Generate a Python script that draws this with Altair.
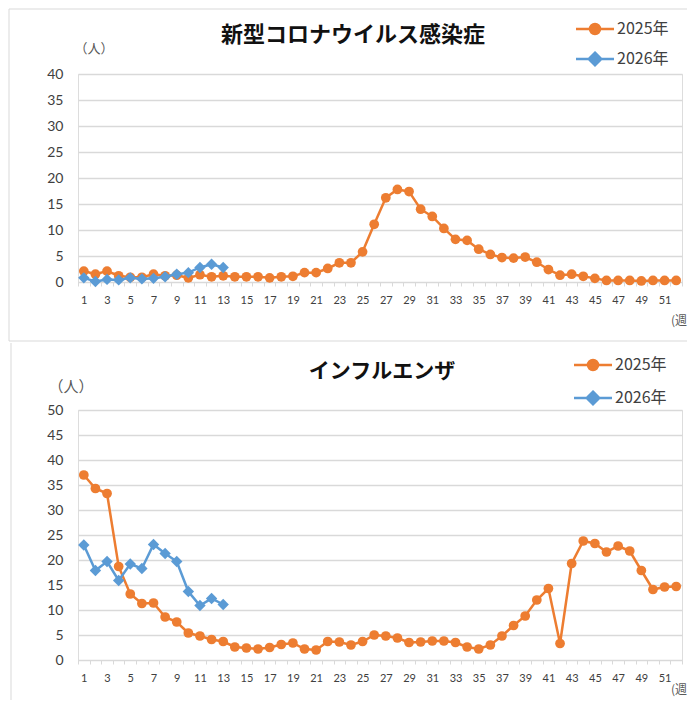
import altair as alt
import pandas as pd

weeks = list(range(1, 53))
series_names = ["2025年", "2026年"]
series_colors = ["#ED7D31", "#5B9BD5"]

cov_2025 = [2.1, 1.5, 2.1, 1.2, 0.9, 0.9, 1.5, 1.2, 1.3, 0.8, 1.4, 1.0, 1.2,
            1.0, 1.0, 1.0, 0.8, 1.0, 1.1, 1.8, 1.8, 2.6, 3.7, 3.7, 5.8, 11.1,
            16.2, 17.8, 17.4, 14.0, 12.6, 10.3, 8.2, 8.0, 6.3, 5.3, 4.7, 4.6,
            4.8, 3.8, 2.4, 1.3, 1.5, 1.1, 0.7, 0.3, 0.3, 0.3, 0.2, 0.3, 0.3, 0.3]
cov_2026 = [0.8, 0.1, 0.5, 0.4, 0.8, 0.6, 0.7, 1.0, 1.5, 1.8, 2.8, 3.4, 2.8]

flu_2025 = [37.0, 34.3, 33.3, 18.7, 13.2, 11.3, 11.4, 8.6, 7.6, 5.4, 4.8, 4.1, 3.7,
            2.6, 2.4, 2.2, 2.5, 3.1, 3.4, 2.2, 2.0, 3.7, 3.6, 3.0, 3.7, 5.0,
            4.8, 4.4, 3.5, 3.6, 3.8, 3.8, 3.5, 2.6, 2.2, 3.0, 4.8, 6.9, 8.8,
            12.0, 14.3, 3.3, 19.3, 23.8, 23.3, 21.6, 22.8, 21.8, 17.9, 14.1, 14.6, 14.7]
flu_2026 = [23.0, 17.9, 19.7, 15.9, 19.2, 18.3, 23.1, 21.3, 19.7, 13.7, 10.9, 12.3, 11.1]

titles = ["新型コロナウイルス感染症", "インフルエンザ"]

W = 604
BORDER = "#d9d9d9"
CJK = "Noto Sans CJK JP"
NUM = "Lato"

circle_path = "M-3.8,0H3.8M-1,0A1,1,0,1,1,1,0A1,1,0,1,1,-1,0Z"
diamond_path = "M-3.8,0H3.8M0,-1.25L1.25,0L0,1.25L-1.25,0Z"

one = pd.DataFrame({"a": [0]})


def long_df(v25, v26):
    rows = [{"week": w, "value": v, "series": series_names[0]} for w, v in zip(weeks, v25)]
    rows += [{"week": w, "value": v, "series": series_names[1]} for w, v in zip(weeks, v26)]
    return pd.DataFrame(rows)


def text_layer(txt, x, y, size, weight="normal", color="#000000", align="center", font=CJK):
    return alt.Chart(one).mark_text(
        text=txt, font=font, fontSize=size, fontWeight=weight, color=color,
        align=align, baseline="middle"
    ).encode(x=alt.value(x), y=alt.value(y))


def rule_layer(**kw):
    return alt.Chart(one).mark_rule(color=BORDER, strokeWidth=1).encode(
        **{k: alt.value(v) for k, v in kw.items()})


def panel(df, title, ymax, H, title_x, title_y, title_size, people_x, people_y, people_size,
          legend_x, legend_y, row_pad, decor, week_y):
    base = alt.Chart(df).encode(
        x=alt.X("week:O", title=None,
                scale=alt.Scale(type="band", paddingInner=0, paddingOuter=0),
                axis=alt.Axis(labelAngle=0, labelOverlap=False,
                              labelExpr="datum.value % 2 == 1 ? datum.label : ''",
                              tickBand="extent", domainColor=BORDER, tickColor=BORDER,
                              tickSize=4, labelFontSize=11, labelFont=NUM,
                              labelColor="#404040", labelPadding=8, grid=False)),
        y=alt.Y("value:Q", title=None,
                scale=alt.Scale(domain=[0, ymax], nice=False),
                axis=alt.Axis(values=list(range(0, ymax + 1, 5)), domain=False, ticks=False,
                              grid=True, gridColor=BORDER, gridWidth=1.3,
                              labelFontSize=14, labelFont=NUM, labelColor="#404040",
                              labelPadding=15)),
    )
    s25 = base.transform_filter(alt.datum.series == series_names[0])
    s26 = base.transform_filter(alt.datum.series == series_names[1])
    l25 = s25.mark_line(color=series_colors[0], strokeWidth=2.5)
    p25 = s25.mark_point(shape="circle", filled=True, size=95, opacity=1, color=series_colors[0])
    l26 = s26.mark_line(color=series_colors[1], strokeWidth=2.5)
    p26 = s26.mark_point(shape="diamond", filled=True, size=130, opacity=1, color=series_colors[1])

    leg = alt.Legend(title=None, orient="none", legendX=legend_x, legendY=legend_y,
                     labelFont=CJK, labelFontSize=16, labelColor="#404040",
                     symbolSize=100, symbolStrokeWidth=2.5, rowPadding=row_pad,
                     labelOffset=14)
    legend_layer = alt.Chart(pd.DataFrame({"series": series_names})).transform_filter(
        "false").mark_point(filled=True, size=100, opacity=1).encode(
        fill=alt.Fill("series:N", scale=alt.Scale(domain=series_names, range=series_colors), legend=leg),
        stroke=alt.Stroke("series:N", scale=alt.Scale(domain=series_names, range=series_colors), legend=leg),
        shape=alt.Shape("series:N", scale=alt.Scale(domain=series_names, range=[circle_path, diamond_path]), legend=leg),
    )

    texts = [
        text_layer(title, title_x, title_y, title_size, weight="bold", color="#111111"),
        text_layer("（人）", people_x, people_y, people_size, color="#595959"),
        text_layer("(週", 609, week_y, 12, color="#595959", align="right"),
    ]
    return alt.layer(*decor, l25, p25, l26, p26, legend_layer, *texts).properties(width=W, height=H)


top_decor = [
    rule_layer(x=-69, y=-65, y2=267),
    rule_layer(y=-65, x=-69, x2=609),
    rule_layer(y=267, x=-69, x2=609),
]
bottom_decor = [
    rule_layer(x=-67, y=-67, y2=290),
]

top = panel(long_df(cov_2025, cov_2026), titles[0], 40, 208,
            275, -39, 22, 16, -25, 13, 509, -53, 8, top_decor, 247)
bottom = panel(long_df(flu_2025, flu_2026), titles[1], 50, 250,
               304, -38, 21, -7, -23, 15, 507, -53, 11, bottom_decor, 280)

chart = alt.vconcat(top, bottom, spacing=0, padding=0).resolve_scale(
    fill="independent", stroke="independent", shape="independent"
).configure_view(stroke=None).configure(background="white")

chart.save("out.html", embed_options={"renderer": "svg", "actions": False})
